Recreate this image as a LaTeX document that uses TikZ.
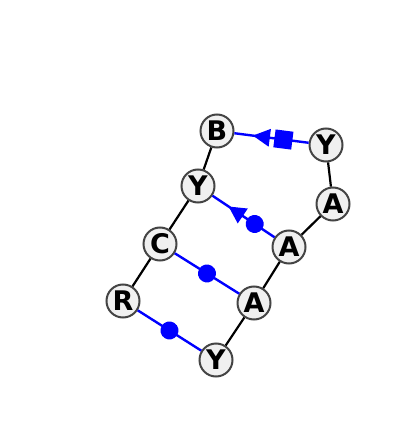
\documentclass[tikz,border=0pt]{standalone}
\usepackage{fontspec}
\setsansfont{DejaVu Sans}
\usetikzlibrary{decorations.markings}
\definecolor{nodefill}{HTML}{F0F0F0}
\definecolor{nodeline}{HTML}{444444}
\tikzset{
    base/.style={line width=2.2pt, black},
    pairU/.style={line width=2.4pt, blue},
    dotM/.style={
        postaction={decorate, decoration={markings,
            mark= at position #1 with {\fill[blue] (0,0) circle (9pt);}}}
    },
    triM/.style={
        postaction={decorate, decoration={markings,
            mark= at position #1 with {\fill[blue] (9pt,0pt) -- (-8pt,9pt) -- (-8pt,-9pt) -- cycle;}}}
    },
    sqM/.style={
        postaction={decorate, decoration={markings,
            mark= at position #1 with {\fill[blue] (-9pt,-9pt) rectangle (9pt,9pt);}}}
    }
}

\begin{document}
\begin{tikzpicture}[x=1pt, y=-1pt]
    \useasboundingbox (0,0) rectangle (400,435);
    \tikzstyle{every node}=[draw=nodeline, fill=nodefill, circle, line width=2pt,
        minimum size=33pt, inner sep=0pt, font=\sffamily\bfseries\fontsize{27}{27}\selectfont];
    \node (b1) at (217,131) {B};
    \node (y1) at (326,145) {Y};
    \node (a1) at (333,204) {A};
    \node (a2) at (289,247) {A};
    \node (y2) at (198,186) {Y};
    \node (c1) at (160,244) {C};
    \node (a3) at (254,303) {A};
    \node (r1) at (123,301) {R};
    \node (y3) at (216,360) {Y};
    % backbone
    \draw[base] (b1) -- (y2);
    \draw[base] (y2) -- (c1);
    \draw[base] (c1) -- (r1);
    \draw[base] (y3) -- (a3);
    \draw[base] (a3) -- (a2);
    \draw[base] (a2) -- (a1);
    \draw[base] (a1) -- (y1);
    % pairs
    \draw[pairU, sqM=0.34, triM=0.63] (y1) -- (b1);
    \draw[pairU, dotM=0.32, triM=0.62] (a2) -- (y2);
    \draw[pairU, dotM=0.5] (c1) -- (a3);
    \draw[pairU, dotM=0.5] (r1) -- (y3);
\end{tikzpicture}
\end{document}
